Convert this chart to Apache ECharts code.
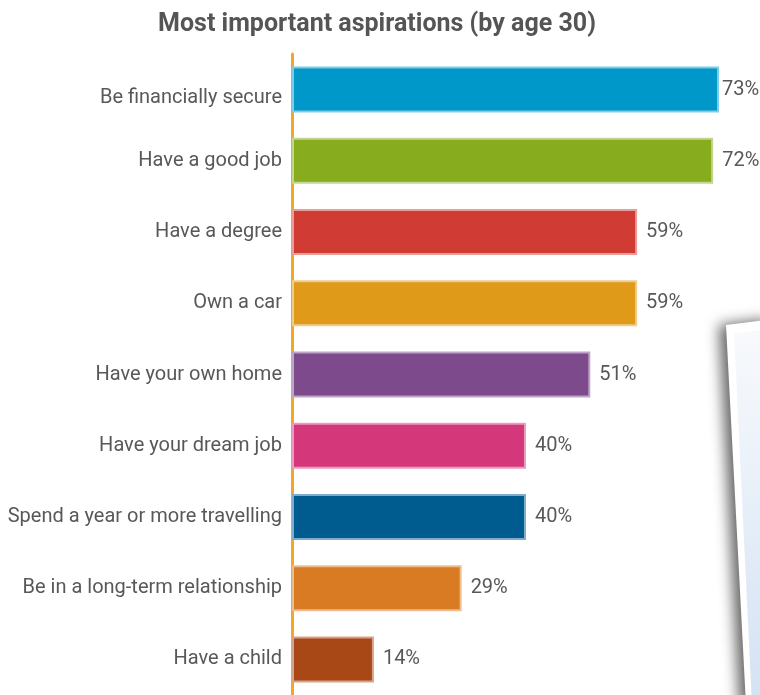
<!DOCTYPE html>
<html><head><meta charset="utf-8">
<script src="https://cdn.jsdelivr.net/npm/echarts@6/dist/echarts.min.js"></script>
<style>html,body{margin:0;padding:0;background:#fff}#c{width:760px;height:695px}</style>
</head><body><div id="c"></div>
<script>
var categories = ['Be financially secure','Have a good job','Have a degree','Own a car','Have your own home','Have your dream job','Spend a year or more travelling','Be in a long-term relationship','Have a child'];
var values = [73,72,59,59,51,40,40,29,14];
var barColors = ['#0097c9','#87ad1f','#d03c33','#df9a19','#7d4a8c','#d4387a','#005b8f','#d97b22','#a84817'];
var borderColors = ['#7fcbe6','#c3d68f','#e89d98','#efcc8c','#bea4c5','#e99bbc','#7faccb','#ecbd90','#d3a38b'];

var chart = echarts.init(document.getElementById('c'), null, {renderer:'canvas'});
chart.setOption({
  animation:false,
  title:{text:'Most important aspirations (by age 30)', left:372, textAlign:'center', top:7,
    textStyle:{fontFamily:'Roboto', fontWeight:'bold', fontSize:25, color:'#555'}},
  grid:{left:292, top:54, width:427, height:653, containLabel:false},
  xAxis:{type:'value', min:0, max:73, show:false},
  yAxis:{type:'category', inverse:true, data: categories,
    axisLine:{show:true, lineStyle:{color:'#f5a623', width:3}},
    axisTick:{show:false},
    axisLabel:{fontFamily:'Roboto', fontSize:20, color:'#585858', margin:10,
      formatter:function(v, i){ return i===0 ? '{low|' + v + '}' : v; },
      rich:{low:{padding:[16,0,0,0], fontFamily:'Roboto', fontSize:20, color:'#585858'}}}},
  graphic:[{
    type:'polygon', z:-2,
    shape:{points:[[726,325],[775,319],[775,705],[746,705]]},
    style:{fill:'#ffffff', shadowBlur:14, shadowOffsetX:-7, shadowOffsetY:0, shadowColor:'rgba(0,0,0,0.6)'}
  },{
    type:'polygon', z:-1,
    shape:{points:[[734,333],[775,329],[775,705],[752,705]]},
    style:{fill:{type:'linear',x:0,y:0,x2:0.2,y2:1,colorStops:[{offset:0,color:'#f8fafc'},{offset:1,color:'#d3e2f4'}]}}
  }],
  series:[{
    type:'bar', barWidth:46,
    data: values.map(function(v,i){
      var d = {value:v, itemStyle:{color:barColors[i], borderColor:borderColors[i], borderWidth:2}};
      if (i===0) d.label = {distance:3};
      return d;
    }),
    label:{show:true, position:'right', distance:9, formatter:'{c}%', fontFamily:'Roboto', fontSize:20, color:'#585858'}
  }]
});
</script></body></html>
